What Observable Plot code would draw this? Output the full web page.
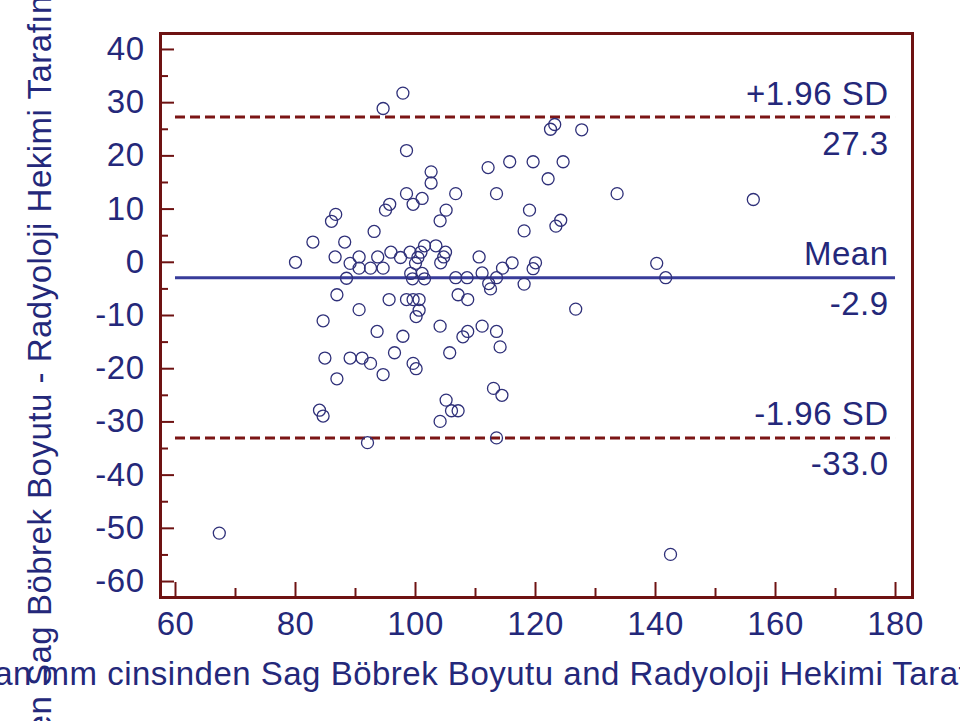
<!DOCTYPE html>
<html>
<head>
<meta charset="utf-8">
<script src="https://cdn.jsdelivr.net/npm/d3@7"></script>
<script src="https://cdn.jsdelivr.net/npm/@observablehq/plot@0.6"></script>
<style>
  html, body { margin: 0; padding: 0; background: #ffffff; overflow: hidden; }
  #chart svg { display: block; }
</style>
</head>
<body>
<div id="chart"></div>
<script>
// Mean of the two measurements (x) and their difference (y)
const meanValues = [
  97.9, 94.6, 98.5, 102.6, 102.6, 98.5, 99.6, 101.1, 106.7, 105.1,
  104.1, 95.7, 95.0, 86.7, 86.0, 93.1, 82.9, 88.2, 80.0, 86.6,
  90.6, 89.1, 90.6, 92.5, 93.7, 94.6, 95.9, 97.5, 99.1, 100.9,
  101.5, 103.4, 105.0, 104.7, 104.2, 100.4, 100.0, 99.2, 101.1, 99.5,
  101.5, 88.5, 106.7, 108.6, 86.9, 95.6, 98.5, 99.6, 100.6, 100.6,
  100.1, 90.6, 107.1, 108.7, 84.6, 93.6, 97.9, 104.1, 107.9, 108.7,
  96.5, 105.7, 84.9, 89.1, 91.1, 92.5, 99.6, 100.1, 94.6, 86.9,
  84.0, 84.6, 105.1, 106.0, 107.1, 104.1, 92.0, 122.5, 123.2, 127.7,
  112.1, 115.7, 119.6, 124.6, 122.1, 113.5, 133.6, 119.0, 124.2, 123.4,
  118.1, 110.6, 116.1, 114.5, 120.0, 119.6, 111.1, 113.5, 112.2, 112.5,
  118.1, 126.7, 111.1, 113.5, 114.1, 113.0, 114.4, 113.5, 67.3, 142.5,
  140.2, 141.7, 156.3
];
const diffValues = [
  31.8, 28.9, 21.0, 17.0, 14.9, 12.9, 10.9, 12.0, 12.9, 9.8,
  7.8, 10.9, 9.8, 9.0, 7.7, 5.8, 3.8, 3.8, 0.0, 1.0,
  1.0, -0.2, -1.1, -1.1, 1.0, -1.1, 1.9, 0.9, 1.9, 1.9,
  3.1, 3.1, 1.9, 1.0, -0.1, 0.9, -0.2, -2.1, -2.1, -3.1,
  -3.1, -3.0, -2.9, -2.9, -6.1, -7.0, -7.0, -7.0, -7.0, -9.0,
  -10.2, -8.9, -6.1, -7.0, -11.0, -13.0, -13.9, -12.0, -14.0, -13.0,
  -17.0, -17.0, -18.0, -18.0, -18.0, -19.0, -19.0, -20.0, -21.1, -21.9,
  -27.8, -28.9, -25.9, -27.9, -27.9, -29.9, -33.9, 25.0, 25.9, 24.9,
  17.8, 18.9, 18.9, 18.9, 15.7, 12.9, 12.9, 9.8, 7.9, 6.8,
  5.9, 1.0, -0.1, -1.1, -0.1, -1.2, -2.0, -2.9, -4.0, -5.0,
  -4.1, -8.8, -12.0, -13.0, -15.9, -23.7, -25.0, -33.0, -50.9, -54.9,
  -0.2, -2.9, 11.8
];

// Reference lines
const lineValues = [27.3, -2.9, -33.0];
const lineNames = ["+1.96 SD", "Mean", "-1.96 SD"];
const lineValueLabels = ["27.3", "-2.9", "-33.0"];
const lineKinds = ["sd", "mean", "sd"];

// Ticks
const xMajorTicks = [60, 80, 100, 120, 140, 160, 180];
const xMinorTicks = [70, 90, 110, 130, 150, 170];
const yMajorTicks = [-60, -50, -40, -30, -20, -10, 0, 10, 20, 30, 40];
const yMinorTicks = [-55, -45, -35, -25, -15, -5, 5, 15, 25, 35];

// Axis titles (they run past the window edges, as in the reference)
const xLabelPrefix = "Mean of Nefroloji Hekimi Tarafında";
const xLabel = xLabelPrefix + "n mm cinsinden Sag Böbrek Boyutu and Radyoloji Hekimi Tarafından mm cinsinden Sag Böbrek Boyutu";
const yLabelPrefix = "Nefroloji Hekimi Tarafından mm cinsinden ";
const yLabel = yLabelPrefix + "Sag Böbrek Boyutu - Radyoloji Hekimi Tarafından mm cinsinden Sag Böbrek Boyutu";

const points = meanValues.map((x, i) => ({x, y: diffValues[i]}));
const refLines = lineValues.map((v, i) => ({value: v, name: lineNames[i], valueLabel: lineValueLabels[i], kind: lineKinds[i]}));

const navy = "#24287a";
const maroon = "#6e1212";
const dashRed = "#7b1515";
const meanBlue = "#383c9a";
const dotColor = "#2f3079";
const fontFamily = "'Liberation Sans', Arial, Helvetica, sans-serif";
const fs = 33;
const hyphenFormat = d => String(d);

const plot = Plot.plot({
  width: 960,
  height: 721,
  marginLeft: 160,
  marginRight: 48,
  marginTop: 33,
  marginBottom: 124,
  x: {domain: [57.5, 182.83]},
  y: {domain: [-63, 43]},
  style: {fontFamily, fontSize: fs + "px", letterSpacing: "0.5px", color: navy, background: "#ffffff"},
  marks: [
    Plot.ruleY(refLines.filter(d => d.kind === "sd"), {y: "value", x1: 60, x2: 180, stroke: dashRed, strokeWidth: 3, strokeDasharray: "10,5"}),
    Plot.ruleY(refLines.filter(d => d.kind === "mean"), {y: "value", x1: 60, x2: 180, stroke: meanBlue, strokeWidth: 3}),
    Plot.dot(points, {x: "x", y: "y", r: 6, stroke: dotColor, strokeWidth: 1.3, fill: "none"}),
    Plot.text(refLines, {x: 180, y: "value", text: "name", textAnchor: "end", dx: -7, dy: -23, fill: navy, fontSize: fs}),
    Plot.text(refLines, {x: 180, y: "value", text: "valueLabel", textAnchor: "end", dx: -7, dy: 27, fill: navy, fontSize: fs}),
    Plot.axisY({ticks: yMajorTicks, anchor: "left", tickSize: -14, fill: "none", stroke: maroon, strokeWidth: 2, label: null}),
    Plot.axisY({ticks: yMinorTicks, anchor: "left", tickSize: -8, fill: "none", stroke: maroon, strokeWidth: 2, label: null}),
    Plot.axisY({ticks: yMajorTicks, anchor: "left", tickSize: 0, tickPadding: 16, fill: navy, label: null, fontSize: fs, tickFormat: hyphenFormat}),
    Plot.axisX({ticks: xMajorTicks, anchor: "bottom", tickSize: -15, fill: "none", stroke: maroon, strokeWidth: 2, label: null}),
    Plot.axisX({ticks: xMinorTicks, anchor: "bottom", tickSize: -9, fill: "none", stroke: maroon, strokeWidth: 2, label: null}),
    Plot.axisX({ticks: xMajorTicks, anchor: "bottom", tickSize: 0, tickPadding: 14, fill: navy, label: null, fontSize: fs, tickFormat: hyphenFormat}),
    Plot.frame({stroke: maroon, strokeWidth: 3})
  ]
});

document.getElementById("chart").appendChild(plot);

const svg = d3.select(plot);
function measure(str) {
  const t = svg.append("text")
    .attr("text-anchor", "start")
    .attr("font-size", fs)
    .attr("font-family", fontFamily)
    .attr("xml:space", "preserve")
    .attr("x", -5000).attr("y", -5000)
    .text(str);
  const w = t.node().getComputedTextLength();
  t.remove();
  return w;
}

// x title: "n mm" starts at x = 13, baseline y = 685
svg.append("text")
  .attr("text-anchor", "start")
  .attr("x", 13 - measure(xLabelPrefix))
  .attr("y", 685)
  .attr("fill", navy)
  .attr("font-size", fs)
  .attr("font-family", fontFamily)
  .text(xLabel);

// y title (rotated): "Sag" starts at y = 686, baseline x = 51
svg.append("text")
  .attr("text-anchor", "start")
  .attr("transform", "translate(51,686) rotate(-90)")
  .attr("x", -measure(yLabelPrefix))
  .attr("y", 0)
  .attr("fill", navy)
  .attr("font-size", fs)
  .attr("font-family", fontFamily)
  .text(yLabel);
</script>
</body>
</html>
